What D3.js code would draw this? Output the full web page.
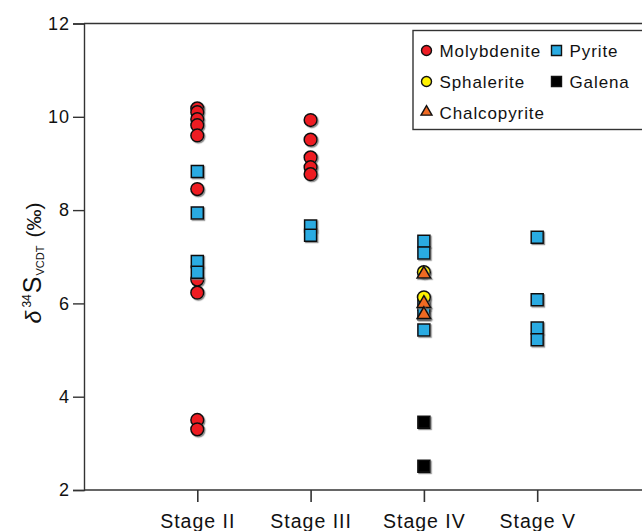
<!DOCTYPE html>
<html>
<head>
<meta charset="utf-8">
<script src="https://cdn.jsdelivr.net/npm/d3@7"></script>
<style>
  body { margin: 0; background: #fff; }
  text { font-family: Arial, "Liberation Sans", sans-serif; fill: #111; }
</style>
</head>
<body>
<div id="chart"></div>
<script>
// stage categories on the x axis
var stages = ["Stage II", "Stage III", "Stage IV", "Stage V"];
var yTicks = [2, 4, 6, 8, 10, 12];

// d34S values (permil) read per mineral and stage
var molybdenite = [
  { stage: "Stage II", values: [10.18, 10.1, 9.95, 9.82, 9.6, 8.45, 6.51, 6.23, 3.5, 3.3] },
  { stage: "Stage III", values: [9.93, 9.51, 9.13, 8.92, 8.77] }
];
var pyrite = [
  { stage: "Stage II", values: [8.83, 7.94, 6.9, 6.67] },
  { stage: "Stage III", values: [7.66, 7.46] },
  { stage: "Stage IV", values: [7.33, 7.08, 5.98, 5.78, 5.43] },
  { stage: "Stage V", values: [7.42, 6.08, 5.47, 5.22] }
];
var sphalerite = [
  { stage: "Stage IV", values: [6.67, 6.13] }
];
var galena = [
  { stage: "Stage IV", values: [3.45, 2.51] }
];
var chalcopyrite = [
  { stage: "Stage IV", values: [6.66, 6.03, 5.79] }
];

var width = 642, height = 531;
var margin = { top: 23.5, left: 84, bottom: 41 };

var svg = d3.select("#chart").append("svg")
  .attr("width", width)
  .attr("height", height);

var defs = svg.append("defs");
var shadow = defs.append("filter").attr("id", "shadow")
  .attr("x", "-50%").attr("y", "-50%").attr("width", "200%").attr("height", "200%");
shadow.append("feDropShadow")
  .attr("dx", 1.2).attr("dy", 1.2).attr("stdDeviation", 0.6)
  .attr("flood-color", "#777").attr("flood-opacity", 0.8);

// x is positional: stages sit at 1..4, one step = ~113px
var x = d3.scaleLinear()
  .domain([0, 5])
  .range([margin.left, margin.left + 113.3 * 5]);
var stageX = function (s) { return x(stages.indexOf(s) + 1); };

var y = d3.scaleLinear()
  .domain([2, 12])
  .range([height - margin.bottom, margin.top]);

var axisColor = "#333";

// frame: top line, left axis, bottom axis (open on the right)
svg.append("line")
  .attr("x1", margin.left).attr("x2", width)
  .attr("y1", y(12)).attr("y2", y(12))
  .attr("stroke", axisColor).attr("stroke-width", 1.4);

var yAxis = d3.axisLeft(y).tickValues(yTicks).tickSize(11).tickPadding(3).tickFormat(d3.format("d"));
var gy = svg.append("g")
  .attr("transform", "translate(" + margin.left + ",0)")
  .call(yAxis);
gy.select(".domain").attr("stroke", axisColor).attr("stroke-width", 1.4);
gy.selectAll(".tick line").attr("stroke", axisColor).attr("stroke-width", 1.4);
gy.selectAll(".tick text")
  .style("font-size", "18px").style("letter-spacing", "1px")
  .attr("fill", "#111");

var xAxis = d3.axisBottom(x)
  .tickValues(stages.map(function (s, i) { return i + 1; }))
  .tickSize(12).tickPadding(12)
  .tickFormat(function (d) { return stages[d - 1]; });
var gx = svg.append("g")
  .attr("transform", "translate(0," + y(2) + ")")
  .call(xAxis);
gx.select(".domain").remove();
gx.append("line")
  .attr("x1", margin.left).attr("x2", width)
  .attr("stroke", axisColor).attr("stroke-width", 1.4);
gx.selectAll(".tick line").attr("stroke", axisColor).attr("stroke-width", 1.6);
gx.selectAll(".tick text")
  .style("font-size", "19.5px").style("letter-spacing", "1px")
  .attr("fill", "#111");

// y axis title  δ34S VCDT (‰)
var ylab = svg.append("text")
  .attr("transform", "translate(41,263) rotate(-90)")
  .attr("text-anchor", "middle");
ylab.append("tspan").text("δ").style("font-style", "italic").style("font-size", "23px");
ylab.append("tspan").text("34").style("font-size", "12px").attr("dy", -10).attr("dx", 3);
ylab.append("tspan").text("S").style("font-size", "25px").attr("dy", 10).attr("dx", 1);
ylab.append("tspan").text("VCDT").style("font-size", "11px").attr("dy", 3).attr("dx", 1);
ylab.append("tspan").text("(‰)").style("font-size", "21px").attr("dy", -3).attr("dx", 8);

var sym = {
  circle: d3.symbol().type(d3.symbolCircle).size(Math.PI * 6.4 * 6.4),
  square: d3.symbol().type(d3.symbolSquare).size(12 * 12),
  triangle: d3.symbol().type(d3.symbolTriangle).size(80)
};

var minerals = [
  { name: "Molybdenite", data: molybdenite, shape: "circle", color: "#ee1d24" },
  { name: "Pyrite", data: pyrite, shape: "square", color: "#29abe2" },
  { name: "Sphalerite", data: sphalerite, shape: "circle", color: "#fff200" },
  { name: "Galena", data: galena, shape: "square", color: "#000" },
  { name: "Chalcopyrite", data: chalcopyrite, shape: "triangle", color: "#f06a23" }
];

var pts = svg.append("g").attr("class", "points");
minerals.forEach(function (m) {
  var flat = [];
  m.data.forEach(function (g) {
    g.values.forEach(function (v) { flat.push({ stage: g.stage, value: v }); });
  });
  pts.selectAll(null)
    .data(flat)
    .enter().append("path")
    .attr("d", sym[m.shape])
    .attr("transform", function (d) {
      var dy = m.shape == "triangle" ? 1.5 : 0;
      return "translate(" + stageX(d.stage) + "," + (y(d.value) + dy) + ")";
    })
    .attr("fill", m.color)
    .attr("stroke", "#111")
    .attr("stroke-width", 1.5)
    .attr("filter", "url(#shadow)");
});

// legend box, runs off the right edge
var legend = svg.append("g");
legend.append("rect")
  .attr("x", 413).attr("y", 30.5)
  .attr("width", 260).attr("height", 99)
  .attr("fill", "#fff")
  .attr("stroke", axisColor).attr("stroke-width", 1.4);

var legSym = {
  circle: d3.symbol().type(d3.symbolCircle).size(Math.PI * 5 * 5),
  square: d3.symbol().type(d3.symbolSquare).size(10 * 10),
  triangle: d3.symbol().type(d3.symbolTriangle).size(52)
};
var legPos = [
  { col: 0, row: 0 }, { col: 1, row: 0 },
  { col: 0, row: 1 }, { col: 1, row: 1 },
  { col: 0, row: 2 }
];
var colX = [426.5, 556.5], rowY = [57, 88, 118.5];

var item = legend.selectAll(".item")
  .data(minerals)
  .enter().append("g")
  .attr("class", "item");

item.append("path")
  .attr("d", function (d) { return legSym[d.shape](); })
  .attr("transform", function (d, i) {
    var p = legPos[i];
    return "translate(" + colX[p.col] + "," + (rowY[p.row] - 6.5) + ")";
  })
  .attr("fill", function (d) { return d.color; })
  .attr("stroke", "#111")
  .attr("stroke-width", 1.4);

item.append("text")
  .attr("x", function (d, i) { return colX[legPos[i].col] + 13; })
  .attr("y", function (d, i) { return rowY[legPos[i].row]; })
  .style("font-size", "17px")
  .style("letter-spacing", "0.9px")
  .text(function (d) { return d.name; });
</script>
</body>
</html>
